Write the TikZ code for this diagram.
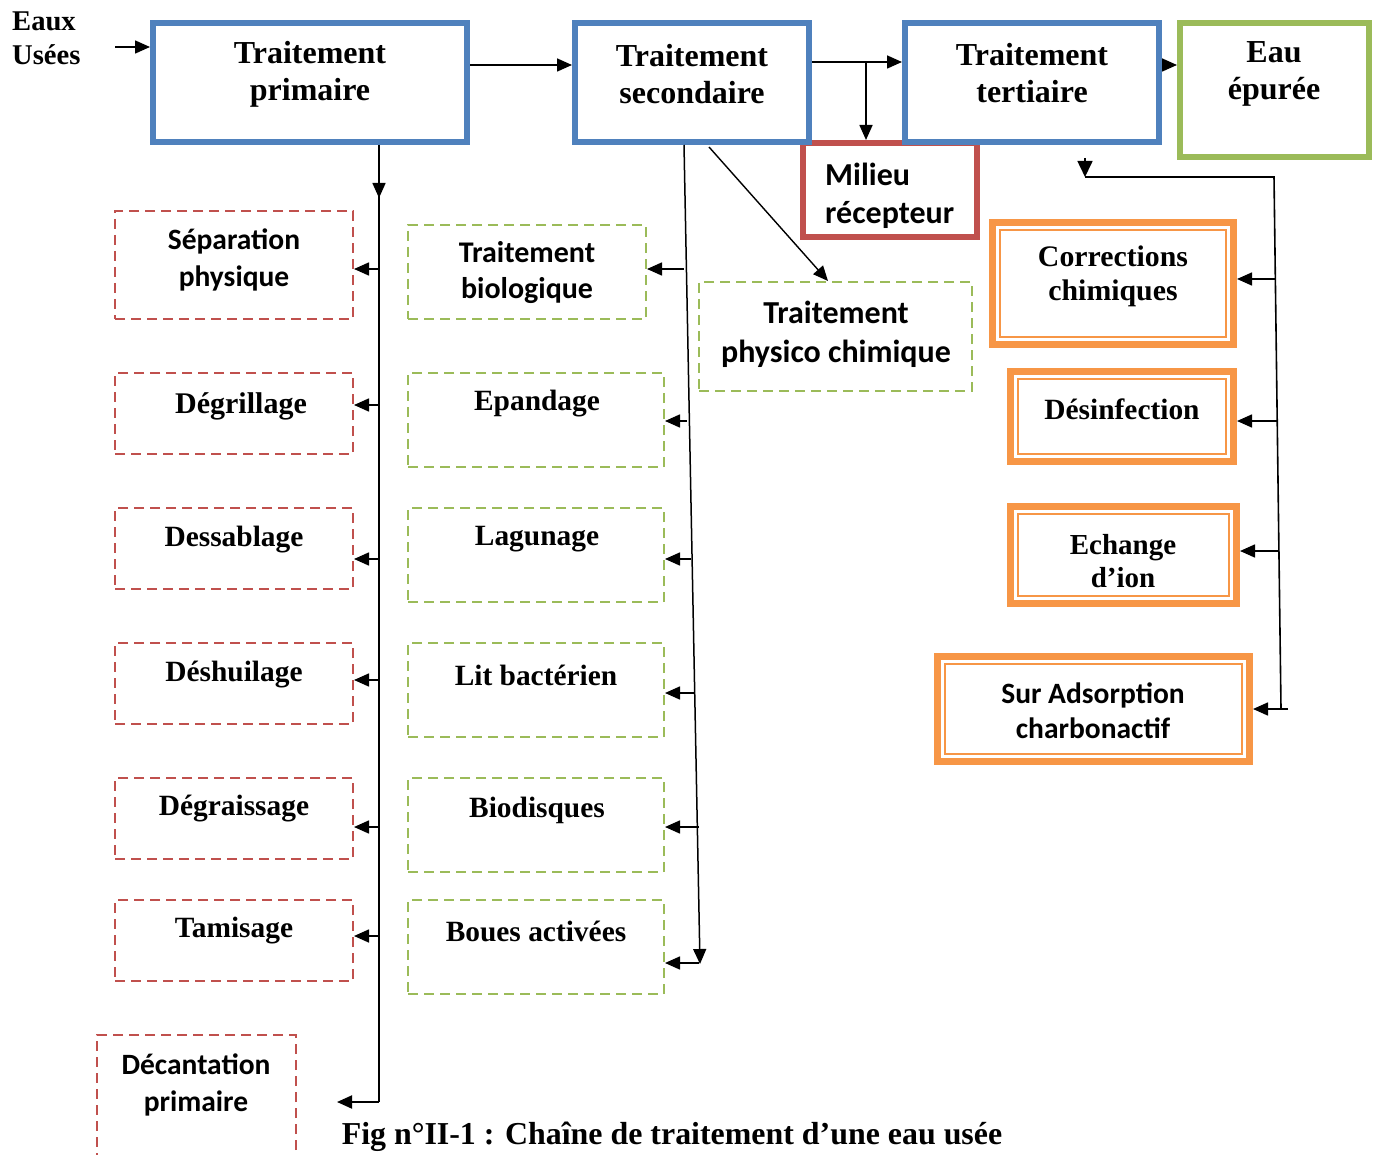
\documentclass[tikz,border=0pt]{standalone}
\usepackage{fontspec}
\setmainfont{Liberation Serif}
\newfontfamily\calb{Carlito}
\usetikzlibrary{arrows.meta}
\definecolor{cblue}{RGB}{79,129,189}
\definecolor{cred}{RGB}{192,80,77}
\definecolor{cgreen}{RGB}{155,187,89}
\definecolor{corange}{RGB}{247,150,70}
\begin{document}
\begin{tikzpicture}[x=1pt,y=-1pt,
  bluebox/.style={draw=cblue,line width=6pt,inner sep=0pt},
  greenbox/.style={draw=cgreen,line width=6pt,inner sep=0pt},
  redbox/.style={draw=cred,line width=6pt,inner sep=0pt},
  reddash/.style={draw=cred,line width=2pt,dash pattern=on 10pt off 6pt,inner sep=0pt},
  greendash/.style={draw=cgreen,line width=2pt,dash pattern=on 10pt off 6pt,inner sep=0pt},
  orbox/.style={draw=corange,line width=7pt,inner sep=0pt},
  orinner/.style={draw=corange,line width=2.5pt},
  ser/.style={font=\fontsize{32}{37}\selectfont\bfseries,align=center,inner sep=0pt},
  serl/.style={font=\fontsize{29.4}{35}\selectfont\bfseries,align=center,inner sep=0pt},
  san/.style={font=\calb\fontsize{29.5}{37}\selectfont\bfseries,align=center,inner sep=0pt},
  arr/.style={-{Triangle[length=15pt,width=13pt]},line width=1.6pt},
  sarr/.style={-{Triangle[length=16pt,width=15pt]},line width=1.6pt},
  ln/.style={line width=1.6pt}]
\useasboundingbox (0,0) rectangle (1380,1155);

% ---- main chain boxes ----
\node[redbox,minimum width=174pt,minimum height=94pt] (mil) at (890,190) {};
\node[bluebox,minimum width=314pt,minimum height=119pt] (tp) at (310,82.5) {};
\node[bluebox,minimum width=234pt,minimum height=119pt] (ts) at (692,82.5) {};
\node[bluebox,minimum width=254pt,minimum height=119pt] (tt) at (1032,82.5) {};
\node[greenbox,minimum width=189pt,minimum height=134pt] (eau) at (1274.5,90) {};

\node[serl,font=\fontsize{28.6}{34}\selectfont\bfseries,align=left,anchor=west] (teaux) at (12,38) {Eaux\\Usées};
\node[ser] (ttp) at (310,74) {Traitement\\primaire};
\node[ser] (tts) at (692,74) {Traitement\\secondaire};
\node[ser] (ttt) at (1032,73) {Traitement\\tertiaire};
\node[ser] (teau) at (1274,74) {Eau\\épurée};
\node[san,font=\calb\fontsize{32}{38}\selectfont\bfseries,align=left,anchor=west] (tmil) at (825,196) {Milieu\\récepteur};

% ---- primary column ----
\node[reddash,minimum width=238pt,minimum height=108pt] (sep) at (234,265) {};
\node[reddash,minimum width=238pt,minimum height=81pt] (degr) at (234,413.5) {};
\node[reddash,minimum width=238pt,minimum height=81pt] (dess) at (234,548.5) {};
\node[reddash,minimum width=238pt,minimum height=81pt] (desh) at (234,683.5) {};
\node[reddash,minimum width=238pt,minimum height=81pt] (dgra) at (234,818.5) {};
\node[reddash,minimum width=238pt,minimum height=81pt] (tam) at (234,940.5) {};
\node[reddash,minimum width=199pt,minimum height=140pt] (dec) at (196.5,1105) {};

\node[san] (tsep) at (234,260) {Séparation\\physique};
\node[serl,font=\fontsize{30}{35}\selectfont\bfseries] (tdegr) at (241,406) {Dégrillage};
\node[serl] (tdess) at (234,540) {Dessablage};
\node[serl] (tdesh) at (234,675) {Déshuilage};
\node[serl] (tdgra) at (234,809) {Dégraissage};
\node[serl] (ttam) at (234,931) {Tamisage};
\node[san] (tdec) at (196,1085) {Décantation\\primaire};

% ---- secondary column ----
\node[greendash,minimum width=238pt,minimum height=94pt] (bio) at (527,272) {};
\node[greendash,minimum width=273pt,minimum height=109pt] (phy) at (835.5,336.5) {};
\node[greendash,minimum width=256pt,minimum height=94pt] (epa) at (536,420) {};
\node[greendash,minimum width=256pt,minimum height=94pt] (lag) at (536,555) {};
\node[greendash,minimum width=256pt,minimum height=94pt] (lit) at (536,690) {};
\node[greendash,minimum width=256pt,minimum height=94pt] (bdq) at (536,825) {};
\node[greendash,minimum width=256pt,minimum height=94pt] (bou) at (536,947) {};

\node[san,font=\calb\fontsize{30}{36}\selectfont\bfseries] (tbio) at (527,273) {Traitement\\biologique};
\node[san,font=\calb\fontsize{32}{39}\selectfont\bfseries] (tphy) at (836,334) {Traitement\\physico chimique};
\node[serl] (tepa) at (537,404) {Epandage};
\node[serl] (tlag) at (537,539) {Lagunage};
\node[serl] (tlit) at (536,675) {Lit bactérien};
\node[serl] (tbdq) at (537,810) {Biodisques};
\node[serl] (tbou) at (536,931) {Boues activées};

% ---- tertiary column ----
\node[orbox,minimum width=241pt,minimum height=122pt] (cor) at (1113,283.5) {};
\node[orbox,minimum width=223pt,minimum height=90pt] (dsf) at (1122,416.5) {};
\node[orbox,minimum width=226pt,minimum height=97pt] (ech) at (1123.5,555) {};
\node[orbox,minimum width=312pt,minimum height=105pt] (sur) at (1093.5,709) {};
\foreach \b in {cor,dsf,ech,sur}{
  \draw[orinner] ([shift={(11,11)}]\b.north west) rectangle ([shift={(-11,-11)}]\b.south east);
}
\node[serl,font=\fontsize{29.8}{34}\selectfont\bfseries] (tcor) at (1113,276) {Corrections\\chimiques};
\node[serl] (tdsf) at (1122,409) {Désinfection};
\node[serl,font=\fontsize{29}{33}\selectfont\bfseries] (tech) at (1123,561) {Echange\\d’ion};
\node[san,font=\calb\fontsize{29.5}{35}\selectfont\bfseries] (tsur) at (1093,711) {Sur Adsorption\\charbonactif};

% ---- caption ----
\node[font=\fontsize{31.9}{36}\selectfont\bfseries,inner sep=0pt] (cap) at (672,1137) {Fig n°II-1 : Chaîne de traitement d’une eau usée};

% ---- main chain connectors ----
\coordinate (r47) at (115,47);
\coordinate (r65) at (0,65);
\coordinate (r62) at (0,62);
\draw[arr] (r47) -- (r47 -| tp.west);
\draw[arr] (tp.east |- r65) -- (ts.west |- r65);
\draw[arr] (ts.east |- r62) -- (tt.west |- r62);
\coordinate (m1) at (866,62);
\draw[arr] (m1) -- (m1 |- mil.north);
\draw[arr] (tt.east |- r65) -- (eau.west |- r65);

% ---- primary vertical ----
\coordinate (p0) at (379,145);
\coordinate (pm) at (379,198);
\coordinate (p1) at (379,1102);
\coordinate (pe) at (337,1102);
\draw[line width=2.2pt] (p0) -- (p1);
\draw[arr] (p0) -- (pm);
\draw[arr,line width=2pt] (p1) -- (pe);
\foreach \n/\y in {sep/269,degr/405,dess/559,desh/680,dgra/827,tam/936}{
  \coordinate (pb) at (379,\y);
  \draw[arr] (pb) -- (pb -| \n.east);
}

% ---- secondary lines ----
\coordinate (s0) at (684,145);
\coordinate (s1) at (700,964);
\draw[arr,line width=1.5pt] (s0) -- (s1);
\foreach \n/\x/\y in {bio/684/269,epa/687/421,lag/691/559,lit/694/693,bdq/699/827,bou/699/963}{
  \coordinate (sb) at (\x,\y);
  \draw[arr] (sb) -- (sb -| \n.east);
}
\coordinate (d0) at (709,147);
\coordinate (d1) at (828,281);
\draw[arr,line width=1.4pt] (d0) -- (d1);

% ---- tertiary lines ----
\coordinate (q0) at (1085,177);
\coordinate (qa) at (1085,158);
\coordinate (q1) at (1274,177);
\coordinate (q2) at (1281,709);
\coordinate (q3) at (1288,709);
\draw[ln] (q0) -- (q1) -- (q2);
\draw[sarr] (qa) -- (q0);
\foreach \n/\x/\y in {cor/1275/279,dsf/1277/421,ech/1279/551,sur/1288/709}{
  \coordinate (tb) at (\x,\y);
  \draw[arr] (tb) -- (tb -| \n.east);
}
\end{tikzpicture}
\end{document}
